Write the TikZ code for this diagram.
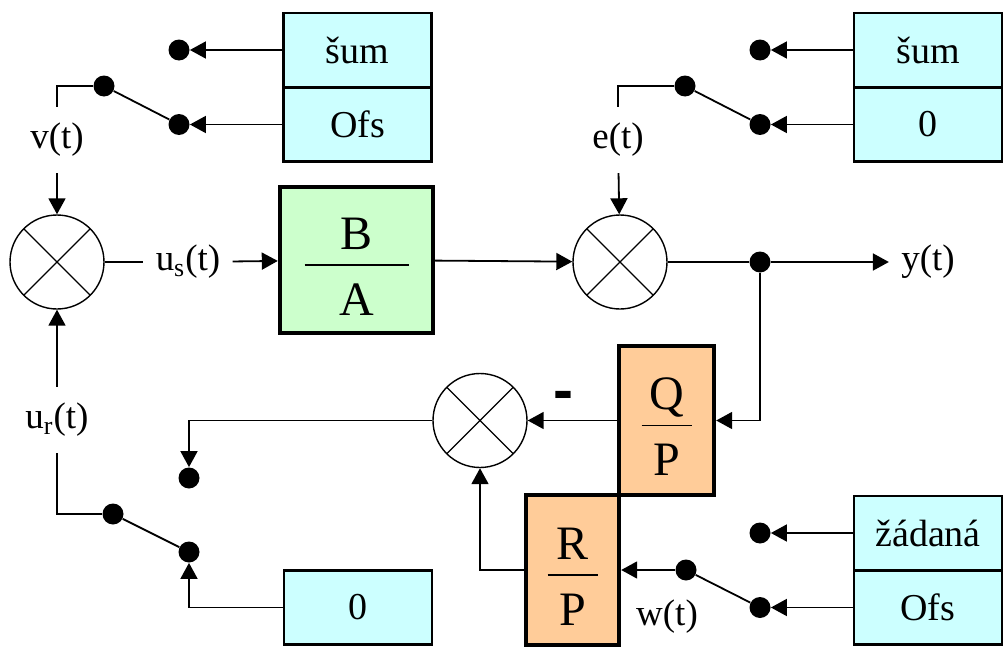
\documentclass[tikz,border=0pt]{standalone}
\usepackage{fontspec}
\setmainfont{Liberation Serif}
\setsansfont{Liberation Sans}
\usepackage{tikz}
\usetikzlibrary{arrows.meta,calc}
\definecolor{srcc}{HTML}{CCFFFF}
\definecolor{plantc}{HTML}{CCFFCC}
\definecolor{ctrlc}{HTML}{FFCC99}
\tikzset{
  src/.style={draw, line width=1.4pt, fill=srcc, minimum width=74pt, minimum height=37pt, inner sep=0pt, font=\fontsize{19}{22}\selectfont},
  frac/.style={draw, line width=2.2pt, fill=#1, align=center, inner sep=0pt, font=\fontsize{24}{33}\selectfont},
  fbar/.style={path picture={\draw[line width=0.8pt] ([xshift=-#1, yshift=-2.5pt]path picture bounding box.center) -- ([xshift=#1, yshift=-2.5pt]path picture bounding box.center);}},
  sumj/.style={circle, draw, line width=0.7pt, minimum size=47pt, inner sep=0pt,
    path picture={\draw[line width=0.7pt] (path picture bounding box.north west) -- (path picture bounding box.south east)
      (path picture bounding box.north east) -- (path picture bounding box.south west);}},
  pin/.style={circle, fill=black, minimum size=10.5pt, inner sep=0pt},
  sig/.style={font=\fontsize{18.5}{20}\selectfont, inner xsep=6pt, inner ysep=8pt},
  arr/.style={-{Triangle[length=8pt, width=8.5pt]}, line width=0.9pt},
  wire/.style={line width=0.9pt},
}
\newcommand{\fracpad}{\rule{0pt}{22pt}}

\begin{document}
\begin{tikzpicture}[x=0.5pt, y=-0.5pt]
  \useasboundingbox (0,0) rectangle (1003,648);
  \node[src] (sumA) at (357.5,50) {šum};
  \node[src] (ofsA) at (357.5,124.5) {Ofs};
  \node[src] (sumB) at (928,50) {šum};
  \node[src] (zeroB) at (928,124.5) {0};
  \node[src] (zad) at (928,533) {žádaná};
  \node[src] (ofsC) at (928,607.5) {Ofs};
  \node[src] (zeroR) at (358,607.5) {0};
  \node[frac=plantc, fbar=26pt, minimum width=76.5pt, minimum height=73pt] (BA) at (356.5,260) {\fracpad B\\A};
  \node[frac=ctrlc, fbar=12.5pt, minimum width=47.5pt, minimum height=74.5pt] (QP) at (666.5,420.5) {\fracpad Q\\P};
  \node[frac=ctrlc, fbar=12.5pt, minimum width=46.5pt, minimum height=75pt] (RP) at (572.5,570) {\fracpad R\\P};
  \node[sumj] (s1) at (57,262) {};
  \node[sumj] (s2) at (620,262) {};
  \node[sumj] (s3) at (480,420.5) {};
  \node[pin] (dA1) at (179,50) {};
  \node[pin] (dA2) at (179,124.5) {};
  \node[pin] (pA) at (104,86) {};
  \node[pin] (dB1) at (760,50) {};
  \node[pin] (dB2) at (760,124.5) {};
  \node[pin] (pB) at (685,86) {};
  \node[pin] (dC1) at (760,533) {};
  \node[pin] (dC2) at (760,607.5) {};
  \node[pin] (pC) at (686,570) {};
  \node[pin] (dR1) at (189,478) {};
  \node[pin] (dR2) at (189,552) {};
  \node[pin] (pR) at (113,514) {};
  \node[pin] (J) at (760,262) {};
  \node[sig] (vt) at (57,140) {v(t)};
  \node[sig] (et) at (618,140) {e(t)};
  \node[sig] (us) at (188,262) {u\textsubscript{s}(t)};
  \node[sig] (yt) at (928,262) {y(t)};
  \node[sig] (ur) at (57,420) {u\textsubscript{r}(t)};
  \node[sig] (wt) at (667,617) {w(t)};
  \node[font=\fontsize{30}{30}\sffamily\bfseries] (neg) at (563,401) {-};

  \draw[arr] (sumA.west) -- (dA1);
  \draw[arr] (ofsA.west) -- (dA2);
  \draw[wire] (pA) -- (dA2);
  \draw[wire] (pA) -| (vt);
  \draw[arr] (vt) -- (s1);
  \draw[arr] (sumB.west) -- (dB1);
  \draw[arr] (zeroB.west) -- (dB2);
  \draw[wire] (pB) -- (dB2);
  \draw[wire] (pB) -| (et);
  \draw[arr] (et) -- (s2);
  \draw[wire] (s1) -- (us);
  \draw[arr] (us) -- (BA);
  \draw[arr] (BA) -- (s2);
  \draw[wire] (s2) -- (J);
  \draw[arr] (J) -- (yt);
  \draw[arr] (J) |- (QP.east);
  \draw[arr] (QP.west) -- (s3);
  \draw[arr] (s3) -| (dR1);
  \draw[arr] (RP.west) -| (s3);
  \draw[arr] (zad.west) -- (dC1);
  \draw[arr] (ofsC.west) -- (dC2);
  \draw[wire] (pC) -- (dC2);
  \draw[arr] (pC) -- (RP.east);
  \draw[arr] (zeroR.west) -| (dR2);
  \draw[wire] (pR) -- (dR2);
  \draw[wire] (pR) -| (ur);
  \draw[arr] (ur) -- (s1);
\end{tikzpicture}
\end{document}
